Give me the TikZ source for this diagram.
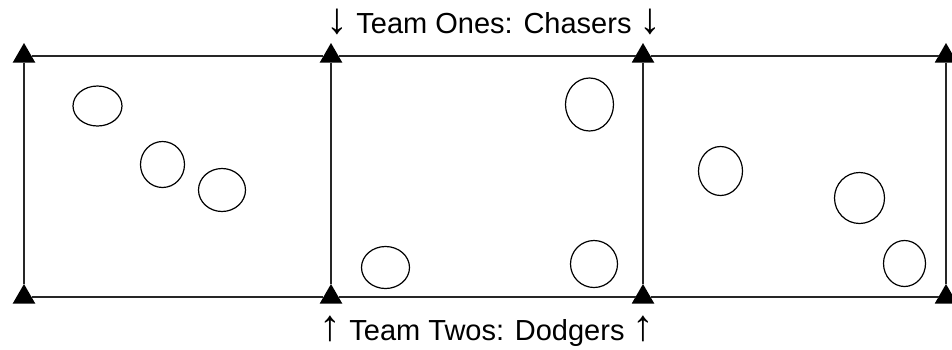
\documentclass[tikz,border=0pt]{standalone}
\usepackage{fontspec}
\setmainfont{Liberation Sans}
\usetikzlibrary{shapes.geometric}

\tikzset{
    cone/.style={regular polygon, regular polygon sides=3, fill=black, minimum size=26pt, inner sep=0pt, outer sep=0pt},
    ball/.style={ellipse, draw, line width=1.2pt, inner sep=0pt},
    sideline/.style={line width=1.6pt, draw=black!85},
    teamlabel/.style={anchor=base, font=\fontsize{29pt}{34pt}\selectfont}
}
\newcommand{\bigarrow}[1]{\scalebox{1.5}{#1}}

\begin{document}
\begin{tikzpicture}[x=1pt, y=-1pt]
    \useasboundingbox (0,0) rectangle (952,349);

    % Place the cones on the top line
    \node[cone] (T1) at (24,56) {};
    \node[cone] (T2) at (331,56) {};
    \node[cone] (T3) at (643,56) {};
    \node[cone] (T4) at (946,56) {};

    % Place the cones on the bottom line
    \node[cone] (B1) at (24,297) {};
    \node[cone] (B2) at (331,297) {};
    \node[cone] (B3) at (643,297) {};
    \node[cone] (B4) at (946,297) {};

    % Draw the lines of the fields
    \draw[sideline] (T1) -- (T2);
    \draw[sideline] (T2) -- (T3);
    \draw[sideline] (T3) -- (T4);
    \draw[sideline] (B1) -- (B2);
    \draw[sideline] (B2) -- (B3);
    \draw[sideline] (B3) -- (B4);
    \draw[sideline] (T1) -- (B1);
    \draw[sideline] (T2) -- (B2);
    \draw[sideline] (T3) -- (B3);
    \draw[sideline] (T4) -- (B4);

    % Draw the balls
    \node[ball, minimum width=49pt, minimum height=40pt] (ball1) at (97.5,106) {};
    \node[ball, minimum width=44pt, minimum height=46pt] (ball2) at (162.5,164.5) {};
    \node[ball, minimum width=47pt, minimum height=43pt] (ball3) at (222,190) {};
    \node[ball, minimum width=48pt, minimum height=53pt] (ball4) at (589.5,104.5) {};
    \node[ball, minimum width=48pt, minimum height=42pt] (ball5) at (385.5,267.5) {};
    \node[ball, minimum width=47pt, minimum height=47pt] (ball6) at (594,264) {};
    \node[ball, minimum width=44pt, minimum height=49pt] (ball7) at (720.5,171) {};
    \node[ball, minimum width=50pt, minimum height=51pt] (ball8) at (859.5,198) {};
    \node[ball, minimum width=42pt, minimum height=46pt] (ball9) at (904.5,263.5) {};

    % Place the team labels
    \node[teamlabel] (chasers) at (494,33) {\bigarrow{↓} Team Ones: Chasers \bigarrow{↓}};
    \node[teamlabel] (dodgers) at (487,340) {\bigarrow{↑} Team Twos: Dodgers \bigarrow{↑}};
\end{tikzpicture}
\end{document}
